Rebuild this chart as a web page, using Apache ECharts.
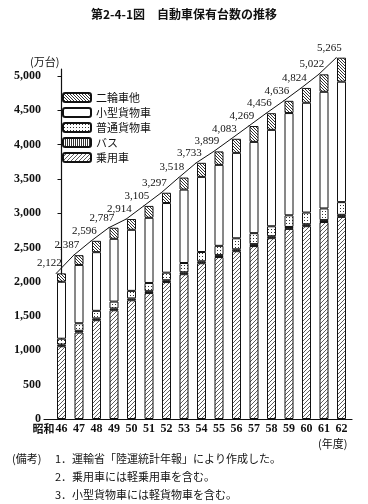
<!DOCTYPE html>
<html><head><meta charset="utf-8">
<script src="https://cdn.jsdelivr.net/npm/echarts@6/dist/echarts.min.js"></script>
<style>html,body{margin:0;padding:0;background:#fff}#c{width:368px;height:504px}</style>
</head><body><div id="c"></div>
<script>
const years = ['46','47','48','49','50','51','52','53','54','55','56','57','58','59','60','61','62'];
const totals = [2122,2387,2596,2787,2914,3105,3297,3518,3733,3899,4083,4269,4456,4636,4824,5022,5265];
const passenger = [1060,1260,1440,1585,1730,1835,1995,2110,2270,2360,2445,2520,2635,2770,2810,2870,2945];
const bus = [25,25,26,26,27,27,27,28,28,28,28,28,28,28,28,28,30];
const truck = [85,110,110,100,110,120,110,135,135,135,160,160,145,170,170,170,185];
const smallTruck = [830,850,855,915,890,950,1015,1070,1095,1180,1245,1330,1405,1490,1600,1700,1755];
const twoWheel = [122,142,165,161,157,173,150,175,205,196,205,231,243,178,216,254,350];
const yTicks = [0,500,1000,1500,2000,2500,3000,3500,4000,4500,5000];

function pattern(type){
  const c = document.createElement('canvas');
  const ctx = c.getContext('2d');
  let s = 4;
  if(type==='fwd'){ s=4; }
  if(type==='back'){ s=3; }
  if(type==='dots'){ s=3; }
  if(type==='vert'){ s=2; }
  c.width = s; c.height = s;
  ctx.fillStyle = '#fff'; ctx.fillRect(0,0,s,s);
  ctx.strokeStyle = '#333'; ctx.fillStyle='#333';
  if(type==='fwd'){
    ctx.lineWidth = 0.8;
    ctx.beginPath();
    ctx.moveTo(0,s); ctx.lineTo(s,0);
    ctx.moveTo(-1,1); ctx.lineTo(1,-1);
    ctx.moveTo(s-1,s+1); ctx.lineTo(s+1,s-1);
    ctx.stroke();
  } else if(type==='back'){
    ctx.lineWidth = 1;
    ctx.beginPath();
    ctx.moveTo(0,0); ctx.lineTo(s,s);
    ctx.moveTo(-1,s-1); ctx.lineTo(1,s+1);
    ctx.moveTo(s-1,-1); ctx.lineTo(s+1,1);
    ctx.stroke();
  } else if(type==='dots'){
    ctx.fillRect(1,1,1,1);
  } else if(type==='vert'){
    ctx.fillRect(0,0,1,s);
  }
  return {image: c, repeat: 'repeat'};
}

const jp = '"Noto Sans CJK JP"';
const num = '"Liberation Serif", "DejaVu Serif", serif';

function barSeries(name, arr, pat){
  return {
    name: name, type: 'bar', stack: 'all', barWidth: 9, clip: false,
    encode: {x: 1, y: 0},
    itemStyle: {color: pat, borderColor: '#111', borderWidth: 1},
    data: arr.map((v,i)=>[v,i])
  };
}

const chart = echarts.init(document.getElementById('c'), null, {renderer:'canvas'});
chart.setOption({
  animation: false,
  backgroundColor: '#fff',
  grid: {left: 44, right: 16, top: 69, bottom: 85},
  legend: {
    orient: 'vertical', left: 62, top: 92, padding: 0, itemWidth: 28, itemHeight: 9, itemGap: 4,
    data: ['二輪車他','小型貨物車','普通貨物車','バス','乗用車'],
    textStyle: {fontFamily: jp, fontSize: 11, color: '#111'},
    selectedMode: false
  },
  xAxis: {
    type: 'value', min: -1, max: 16.6, interval: 1,
    axisLine: {lineStyle: {color: '#111', width: 1.2}},
    axisTick: {show: false}, splitLine: {show: false},
    axisLabel: {
      margin: 4, showMaxLabel: false,
      fontFamily: num, fontWeight: 'bold', fontSize: 12, color: '#111',
      formatter: v => {
        if (v < 0 || v > 16 || Math.round(v)!==v) return '';
        if (v === 0) return '{p|昭和}' + years[v] + '{q|}';
        return years[v];
      },
      rich: {p: {fontFamily: jp, fontSize: 11, width: 24, color:'#111'}, q: {width: 24}}
    }
  },
  yAxis: {
    type: 'value', min: 0, max: 5100, interval: 500,
    name: '(万台)', nameLocation: 'end', nameGap: 2,
    nameTextStyle: {fontFamily: jp, fontSize: 11, color: '#111', align: 'right', padding: [0, 2, 0, 0]},
    axisLine: {show: true, lineStyle: {color: '#111', width: 1.2}},
    axisTick: {show: true, length: 4, lineStyle: {color: '#111'}},
    splitLine: {show: false},
    axisLabel: {
      margin: 3, showMaxLabel: false,
      fontFamily: num, fontWeight: 'bold', fontSize: 12, color: '#111',
      formatter: v => yTicks.indexOf(v) >= 0 ? v.toLocaleString('en-US') : ''
    }
  },
  series: [
    barSeries('乗用車', passenger, pattern('fwd')),
    barSeries('バス', bus, pattern('vert')),
    barSeries('普通貨物車', truck, pattern('dots')),
    barSeries('小型貨物車', smallTruck, '#fff'),
    barSeries('二輪車他', twoWheel, pattern('back')),
    {
      type: 'line', clip: false, symbol: 'circle', symbolSize: 1, showSymbol: true, z: 5,
      itemStyle: {color: '#111'},
      lineStyle: {color: '#111', width: 1},
      data: totals.map((v,i)=>[i-0.3, v]),
      label: {
        show: true, position: 'top', distance: 3, offset: [-7, -1],
        fontFamily: num, fontSize: 11, color: '#111',
        formatter: p => p.value[1].toLocaleString('en-US')
      }
    }
  ],
  graphic: [
    {type:'text', left:'center', top: 8, style:{text:'第2-4-1図　自動車保有台数の推移', font:'bold 12px '+jp, fill:'#111'}},
    {type:'text', left: 318, top: 438, style:{text:'(年度)', font:'11px '+jp, fill:'#111'}},
    {type:'text', left: 12, top: 453, style:{text:'(備考)', font:'11px '+jp, fill:'#111'}},
    {type:'text', left: 55, top: 453, style:{text:'1．運輸省「陸運統計年報」により作成した。', font:'11px '+jp, fill:'#111'}},
    {type:'text', left: 55, top: 471, style:{text:'2．乗用車には軽乗用車を含む。', font:'11px '+jp, fill:'#111'}},
    {type:'text', left: 55, top: 489, style:{text:'3．小型貨物車には軽貨物車を含む。', font:'11px '+jp, fill:'#111'}}
  ]
});
</script></body></html>
